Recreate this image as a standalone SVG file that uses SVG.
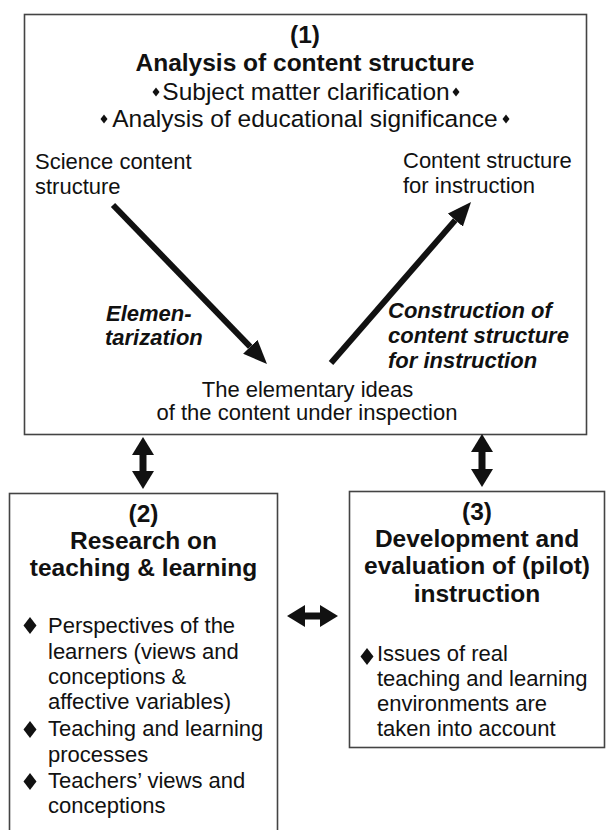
<svg xmlns="http://www.w3.org/2000/svg" width="606" height="830" viewBox="0 0 606 830">
<style>
text{font-family:"Liberation Sans",Arial,sans-serif;fill:#111}
.h{font-size:24.5px;text-anchor:middle}
.hb{font-size:24.5px;font-weight:bold;text-anchor:middle}
.t{font-size:22px}
.c{font-size:22px;text-anchor:middle}
.bi{font-size:22px;font-weight:bold;font-style:italic}
.box{fill:#fff;stroke:#444;stroke-width:1.6}
.dia{fill:#111}
.arr{stroke:#111;stroke-width:6;fill:none}
.dbl{stroke:#111;stroke-width:7;fill:none}
</style>
<defs>
<marker id="ah" viewBox="0 0 24 20" markerWidth="24" markerHeight="20" refX="0" refY="10" markerUnits="userSpaceOnUse" orient="auto"><path d="M0,0 L24,10 L0,20 z" fill="#111"/></marker>
<marker id="dh" viewBox="0 0 18 22" markerWidth="18" markerHeight="22" refX="0" refY="11" markerUnits="userSpaceOnUse" orient="auto-start-reverse"><path d="M0,0 L18,11 L0,22 z" fill="#111"/></marker>
</defs>
<rect width="606" height="830" fill="#fff"/>
<g id="node1">
<rect class="box" x="24.5" y="14.5" width="562" height="420"/>
<text class="hb" x="305" y="43">(1)</text>
<text class="hb" x="305" y="71">Analysis of content structure</text>
<polygon class="dia" points="156,87.5 159.5,92 156,96.5 152.5,92"/>
<text class="h" x="306" y="100">Subject matter clarification</text>
<polygon class="dia" points="456,87.5 459.5,92 456,96.5 452.5,92"/>
<polygon class="dia" points="104,114.5 107.5,119 104,123.5 100.5,119"/>
<text class="h" x="305" y="127">Analysis of educational significance</text>
<polygon class="dia" points="506,114.5 509.5,119 506,123.5 502.5,119"/>
<text class="t" x="35" y="169">Science content</text>
<text class="t" x="35" y="194">structure</text>
<text class="t" x="403" y="168">Content structure</text>
<text class="t" x="403" y="193">for instruction</text>
<text class="bi" x="106" y="321">Elemen-</text>
<text class="bi" x="105" y="345">tarization</text>
<text class="bi" x="388" y="318">Construction of</text>
<text class="bi" x="388" y="343">content structure</text>
<text class="bi" x="388" y="368">for instruction</text>
<text class="c" x="307.5" y="397">The elementary ideas</text>
<text class="c" x="307" y="420">of the content under inspection</text>
</g>
<g id="node2">
<rect class="box" x="9.5" y="493.5" width="268" height="350"/>
<text class="hb" x="143.5" y="522">(2)</text>
<text class="hb" x="143.5" y="549">Research on</text>
<text class="hb" x="143.5" y="576">teaching &amp; learning</text>
<polygon class="dia" points="30,617 36.5,625.5 30,634 23.5,625.5"/>
<text class="t" x="48" y="633">Perspectives of the</text>
<text class="t" x="48" y="659">learners (views and</text>
<text class="t" x="48" y="684">conceptions &amp;</text>
<text class="t" x="48" y="709">affective variables)</text>
<polygon class="dia" points="30,721 36.5,729.5 30,738 23.5,729.5"/>
<text class="t" x="48" y="736">Teaching and learning</text>
<text class="t" x="48" y="762">processes</text>
<polygon class="dia" points="30,773 36.5,781.5 30,790 23.5,781.5"/>
<text class="t" x="48" y="788">Teachers’ views and</text>
<text class="t" x="48" y="813">conceptions</text>
</g>
<g id="node3">
<rect class="box" x="349.5" y="491.5" width="255" height="256"/>
<text class="hb" x="477" y="520">(3)</text>
<text class="hb" x="477" y="547">Development and</text>
<text class="hb" x="477" y="574">evaluation of (pilot)</text>
<text class="hb" x="477" y="602">instruction</text>
<polygon class="dia" points="367,648 373.5,656.5 367,665 360.5,656.5"/>
<text class="t" x="377" y="661">Issues of real</text>
<text class="t" x="377" y="686">teaching and learning</text>
<text class="t" x="377" y="711">environments are</text>
<text class="t" x="377" y="736">taken into account</text>
</g>
<g id="connectors">
<line class="arr" x1="113" y1="205" x2="250.3" y2="346.8" marker-end="url(#ah)"/>
<line class="arr" x1="331" y1="363" x2="455.3" y2="220.1" marker-end="url(#ah)"/>
<line class="dbl" x1="143" y1="455" x2="143" y2="471" marker-start="url(#dh)" marker-end="url(#dh)"/>
<line class="dbl" x1="482" y1="452" x2="482" y2="469" marker-start="url(#dh)" marker-end="url(#dh)"/>
<line class="dbl" x1="305" y1="616" x2="320" y2="616" marker-start="url(#dh)" marker-end="url(#dh)"/>
</g>
</svg>
